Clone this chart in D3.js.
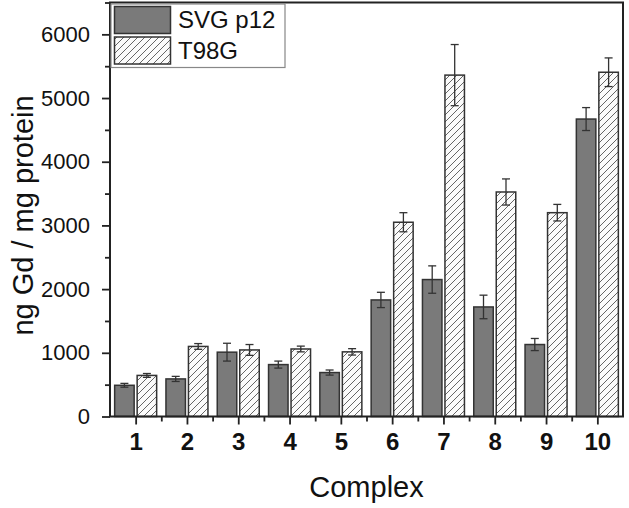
<!DOCTYPE html>
<html>
<head>
<meta charset="utf-8">
<script src="https://cdn.jsdelivr.net/npm/d3@7"></script>
<style>
  html, body { margin: 0; padding: 0; background: #fff; }
  svg { display: block; font-family: "Liberation Sans", Arial, sans-serif; }
</style>
</head>
<body>
<svg id="chart" width="629" height="508"></svg>
<script>
const categories = ["1", "2", "3", "4", "5", "6", "7", "8", "9", "10"];
const seriesNames = ["SVG p12", "T98G"];
const svgValues = [490, 590, 1010, 815, 690, 1830, 2150, 1720, 1130, 4670];
const svgErrors = [30, 40, 140, 55, 40, 120, 215, 185, 95, 180];
const t98Values = [645, 1100, 1045, 1060, 1015, 3050, 5360, 3525, 3200, 5405];
const t98Errors = [30, 45, 85, 45, 50, 150, 480, 205, 130, 225];
const yTicks = [0, 1000, 2000, 3000, 4000, 5000, 6000];
const yMinorTicks = [500, 1500, 2500, 3500, 4500, 5500, 6500];

(function () {
const FONT = "'Liberation Sans', Arial, sans-serif";
const svg = d3.select("#chart");
const mLeft = 110, mRight = 623, mTop = 2.5, mBottom = 416.5;

const x = d3.scaleLinear().domain([0.5, 10.5]).range([mLeft, mRight]);
const y = d3.scaleLinear().domain([0, 6500]).range([mBottom, mTop]);

// hatch pattern
const defs = svg.append("defs");
const pat = defs.append("pattern")
  .attr("id", "hatch").attr("patternUnits", "userSpaceOnUse")
  .attr("width", 7).attr("height", 7);
pat.append("rect").attr("width", 7).attr("height", 7).attr("fill", "#fbfbfb");
pat.append("path").attr("d", "M-1,1 l2,-2 M0,7 l7,-7 M6,8 l2,-2")
  .attr("stroke", "#555").attr("stroke-width", 0.9);

const barW = 19.5, gap = 1.5;
const series = [
  { name: seriesNames[0], vals: svgValues, errs: svgErrors, fill: "#7a7a7a", off: -gap - barW },
  { name: seriesNames[1], vals: t98Values, errs: t98Errors, fill: "url(#hatch)", off: gap }
];

series.forEach(s => {
  const g = svg.append("g");
  g.selectAll("rect").data(categories).join("rect")
    .attr("x", (c, i) => x(i + 1) + s.off)
    .attr("y", (c, i) => y(s.vals[i]))
    .attr("width", barW)
    .attr("height", (c, i) => y(0) - y(s.vals[i]))
    .attr("fill", s.fill)
    .attr("stroke", "#333").attr("stroke-width", 1.5);
  const eb = svg.append("g").attr("stroke", "#333").attr("stroke-width", 1.3);
  categories.forEach((c, i) => {
    const cx = x(i + 1) + s.off + barW / 2;
    const hi = y(s.vals[i] + s.errs[i]), lo = y(s.vals[i] - s.errs[i]);
    eb.append("line").attr("x1", cx).attr("x2", cx).attr("y1", hi).attr("y2", lo);
    eb.append("line").attr("x1", cx - 4).attr("x2", cx + 4).attr("y1", hi).attr("y2", hi);
    eb.append("line").attr("x1", cx - 4).attr("x2", cx + 4).attr("y1", lo).attr("y2", lo);
  });
});

// frame
svg.append("rect").attr("x", mLeft).attr("y", mTop).attr("width", mRight - mLeft).attr("height", mBottom - mTop)
  .attr("fill", "none").attr("stroke", "#222").attr("stroke-width", 2);

// y axis
const yAxis = svg.append("g").attr("transform", `translate(${mLeft},0)`)
  .call(d3.axisLeft(y).tickValues(yTicks).tickSize(8).tickPadding(12).tickFormat(d3.format("d")));
yAxis.select(".domain").remove();
yAxis.selectAll(".tick line").attr("stroke", "#222").attr("stroke-width", 1.8);
yAxis.selectAll(".tick text").attr("font-size", 22).attr("fill", "#111").attr("font-family", FONT);
const yMinor = svg.append("g").attr("transform", `translate(${mLeft},0)`)
  .call(d3.axisLeft(y).tickValues(yMinorTicks).tickSize(5).tickFormat(""));
yMinor.select(".domain").remove();
yMinor.selectAll(".tick line").attr("stroke", "#222").attr("stroke-width", 1.8);

// x axis
const xAxis = svg.append("g").attr("transform", `translate(0,${mBottom})`)
  .call(d3.axisBottom(x).tickValues(categories.map((c, i) => i + 1)).tickSize(8).tickPadding(8)
    .tickFormat((d, i) => categories[i]));
xAxis.select(".domain").remove();
xAxis.selectAll(".tick line").attr("stroke", "#222").attr("stroke-width", 1.8);
xAxis.selectAll(".tick text").attr("font-size", 24).attr("font-weight", "bold").attr("fill", "#111")
  .attr("font-family", FONT);
const xMinor = svg.append("g").attr("transform", `translate(0,${mBottom})`)
  .call(d3.axisBottom(x).tickValues(d3.range(1.5, 10.5, 1)).tickSize(5).tickFormat(""));
xMinor.select(".domain").remove();
xMinor.selectAll(".tick line").attr("stroke", "#222").attr("stroke-width", 1.8);

// axis titles
svg.append("text").attr("x", (mLeft + mRight) / 2).attr("y", 497).attr("text-anchor", "middle")
  .attr("font-family", FONT).attr("font-size", 29).attr("fill", "#111").text("Complex");
svg.append("text").attr("transform", `translate(33,${(mTop + mBottom) / 2 + 6}) rotate(-90)`)
  .attr("text-anchor", "middle").attr("font-family", FONT).attr("font-size", 29).attr("fill", "#111")
  .text("ng Gd / mg protein");

// legend
const lg = svg.append("g");
lg.append("rect").attr("x", 111).attr("y", 4).attr("width", 174).attr("height", 63.5)
  .attr("fill", "#fff").attr("stroke", "#888").attr("stroke-width", 1.2);
series.forEach((s, i) => {
  const yy = 6.5 + i * 30.5;
  lg.append("rect").attr("x", 114.5).attr("y", yy).attr("width", 56).attr("height", 27)
    .attr("fill", s.fill).attr("stroke", "#333").attr("stroke-width", 1.5);
  lg.append("text").attr("x", 178).attr("y", yy + 21.5).attr("font-family", FONT)
    .attr("font-size", 24).attr("fill", "#111").text(s.name);
});
})();
</script>
</body>
</html>
